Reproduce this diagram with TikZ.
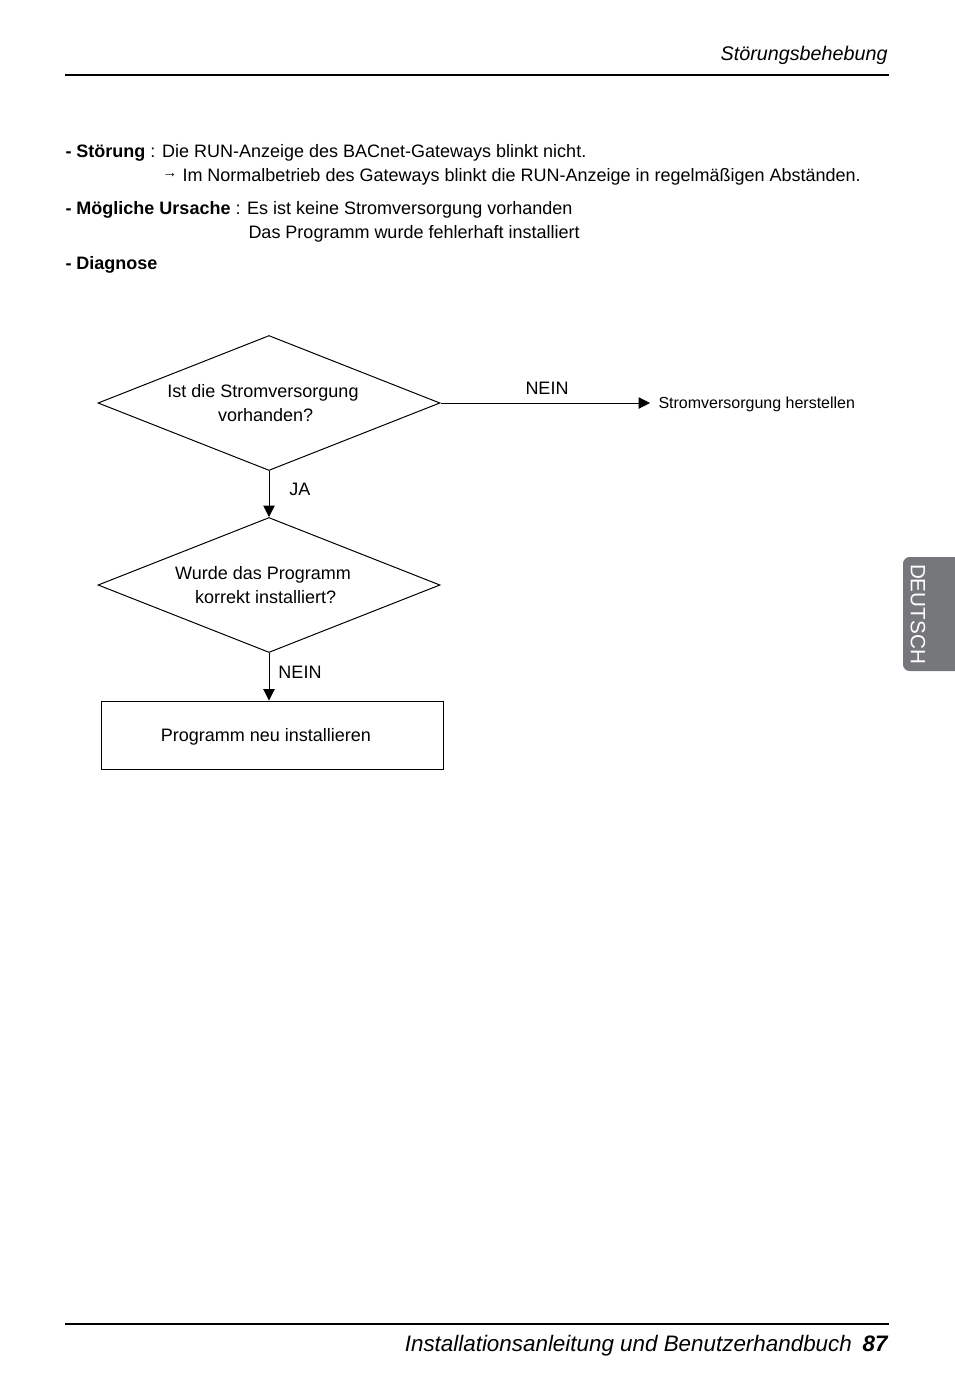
\documentclass[tikz,border=0pt]{standalone}
\usepackage{fontspec}
\setmainfont{Liberation Sans}
\usetikzlibrary{shapes.geometric,arrows.meta}
\definecolor{tabgray}{RGB}{118,119,123}
\begin{document}
\begin{tikzpicture}[x=0.75pt,y=-0.75pt,line width=0.75pt,>={Triangle[length=8.5pt,width=8.5pt]}]
		\tikzstyle{txt}=[anchor=base west,inner sep=0pt,font=\fontsize{13.5}{16}\selectfont]
		\tikzstyle{decision}=[draw,shape=diamond,aspect=2.53,inner sep=0pt,minimum width=256.5pt,minimum height=101.25pt,align=center,font=\fontsize{13.5}{18}\selectfont]
		\tikzstyle{action}=[draw,shape=rectangle,minimum width=256.5pt,minimum height=51pt,font=\fontsize{13.5}{16}\selectfont]
		\tikzstyle{answer}=[inner sep=0pt,font=\fontsize{13.5}{16}\selectfont]

		\useasboundingbox (0,0) rectangle (954,1400);

		\node[anchor=base east,inner sep=0pt,font=\fontsize{14.8}{16}\selectfont\itshape](hdr) at (888,60){Störungsbehebung};
		\draw[line width=1.5pt] (65,75) -- (889,75);

		\node[txt](fault) at (65,157){\textbf{- Störung} : Die RUN-Anzeige des BACnet-Gateways blinkt nicht.};
		\node[txt](note) at (162,181){\raisebox{2.5pt}{\fontsize{11}{12}\selectfont→}\hspace{4pt}Im Normalbetrieb des Gateways blinkt die RUN-Anzeige in regelmäßigen Abständen.};
		\node[txt](cause) at (65,214){\textbf{- Mögliche Ursache} : Es ist keine Stromversorgung vorhanden};
		\node[txt](cause2) at (248,238){Das Programm wurde fehlerhaft installiert};
		\node[txt](diag) at (65,269){\textbf{- Diagnose}};

		\node[decision](power) at (269,403){Ist die Stromversorgung\hspace*{9pt}\\vorhanden?\hspace*{5pt}};
		\node[decision](prog) at (269,585){Wurde das Programm\hspace*{9pt}\\korrekt installiert?\hspace*{5pt}};
		\node[action](reinst) at (272,735){\raisebox{-4.8pt}[0pt][0pt]{Programm neu installieren}\hspace*{9pt}};
		\node[anchor=west,inner xsep=6pt,inner ysep=0pt,font=\fontsize{12}{14}\selectfont](supply) at (650,404.5){Stromversorgung herstellen};

		\draw[->] (power.east) -- (power.east -| supply.west);
		\draw[->] (power.south) -- (prog.north);
		\draw[->] (prog.south) -- (prog.south |- reinst.north);
		\draw[line width=1.3pt] (reinst.north east) -- (reinst.south east) -- (reinst.south west);

		\node[answer](no1) at (547,388){NEIN};
		\node[answer](yes1) at (300,489){JA};
		\node[answer](no2) at (300,672){NEIN};

		\fill[tabgray,rounded corners=5pt] (960,557) -- (903,557) -- (903,671) -- (960,671);
		\node[rotate=-90,text=white,inner sep=0pt,font=\fontsize{15.5}{16}\selectfont](lang) at (918,614){DEUTSCH};

		\draw[line width=1.5pt] (65,1324) -- (889,1324);
		\node[anchor=base east,inner sep=0pt,font=\fontsize{16.8}{18}\selectfont\itshape](foot) at (888,1351){Installationsanleitung und Benutzerhandbuch\hspace{8pt}\textbf{87}};
\end{tikzpicture}
\end{document}
